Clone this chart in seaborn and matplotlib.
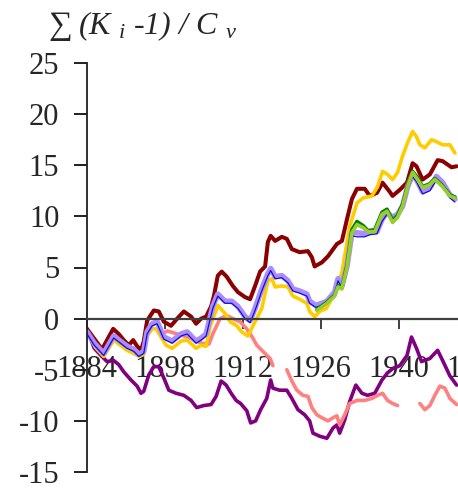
import numpy as np
import pandas as pd
import matplotlib
matplotlib.use("Agg")
import matplotlib.pyplot as plt
import seaborn as sns

# ---------------- data ----------------
years_red = [1884, 1886.7, 1888.7, 1889.7, 1890.6, 1891.5, 1892.3, 1893.0, 1893.7, 1894.2, 1894.8, 1896.0, 1896.9,
             1897.8, 1899.1, 1900.2, 1901.4, 1902.7, 1903.6, 1904.5, 1905.4, 1906.3, 1906.8, 1907.5, 1908.2, 1909.1,
             1910.2, 1911.1, 1912.4, 1913.3, 1914.2, 1915.1, 1916.0, 1916.5, 1917.0, 1917.8, 1919.0, 1919.9, 1920.8,
             1922.2, 1923.7, 1924.4, 1924.9, 1926.2, 1927.3, 1928.9, 1929.8, 1930.7, 1931.6, 1932.5, 1933.9, 1934.8,
             1936.1, 1937.1, 1938.4, 1938.9, 1940.2, 1941.5, 1942.5, 1943.2, 1944.3, 1945.6, 1947.0, 1947.9, 1949.5,
             1950.4]
vals_red = [-1.0, -3.0, -1.0, -1.5, -2.1, -2.6, -2.1, -2.7, -3.1, -2.2, -0.2, 0.8, 0.7, -0.3, -0.7, 0.0, 0.7, 0.2,
            -0.5, 0.0, 0.2, 1.2, 2.2, 4.2, 4.6, 4.1, 3.2, 2.6, 2.1, 1.9, 3.2, 4.6, 5.1, 7.5, 8.1, 7.6, 8.0, 7.8, 6.8,
            6.5, 6.6, 6.0, 5.1, 5.5, 6.1, 7.3, 7.6, 9.7, 11.7, 12.7, 12.7, 12.0, 12.3, 13.3, 12.4, 12.0, 12.6, 13.3,
            15.2, 14.9, 13.6, 14.1, 15.5, 15.4, 14.8, 14.9]

years_yel = [1884, 1885.5, 1887.0, 1888.8, 1890.0, 1891.2, 1892.4, 1893.3, 1894.2, 1894.8, 1895.7, 1896.4, 1897.3,
             1898.2, 1899.3, 1900.9, 1902.0, 1903.6, 1904.5, 1905.4, 1906.1, 1907.5, 1908.8, 1909.7, 1910.9, 1911.8,
             1912.9, 1914.2, 1915.4, 1916.5, 1917.2, 1917.8, 1919.0, 1920.1, 1921.0, 1922.2, 1923.5, 1924.0, 1924.9,
             1925.8, 1927.0, 1928.2, 1929.8, 1931.2, 1932.5, 1933.6, 1935.2, 1936.2, 1937.1, 1938.0, 1938.9, 1939.8,
             1940.7, 1941.6, 1942.5, 1943.2, 1943.8, 1944.7, 1945.9, 1946.8, 1947.9, 1949.2, 1950.1]
vals_yel = [-1.2, -2.8, -3.7, -2.1, -2.6, -3.1, -3.4, -3.7, -3.5, -1.7, -1.0, -1.0, -1.8, -2.6, -2.9, -2.2, -2.1,
            -2.9, -2.6, -2.7, -0.8, 1.3, 0.5, -0.3, -0.7, -1.3, -1.7, -0.3, 1.0, 3.7, 3.9, 3.1, 3.2, 3.1, 2.2, 1.9,
            1.5, 0.7, 0.2, 0.7, 1.0, 2.2, 4.5, 9.0, 11.3, 11.8, 12.0, 12.9, 14.4, 14.1, 13.6, 14.3, 15.9, 17.2, 18.3,
            17.8, 17.0, 16.7, 17.5, 17.3, 17.0, 17.0, 16.2]

years_lav = [1884, 1885.3, 1887.0, 1888.8, 1890.0, 1891.2, 1892.4, 1893.3, 1894.2, 1894.8, 1895.7, 1896.6, 1897.8,
             1899.3, 1900.9, 1902.0, 1903.6, 1904.5, 1905.4, 1906.6, 1907.5, 1908.8, 1910.0, 1911.1, 1912.4, 1913.3,
             1914.2, 1915.4, 1916.5, 1917.0, 1917.8, 1919.0, 1920.1, 1921.0, 1922.2, 1923.5, 1924.0, 1925.1, 1926.2,
             1927.1, 1928.5, 1929.1, 1929.8, 1930.7, 1931.6, 1932.5, 1933.9, 1934.8, 1936.1, 1937.0, 1937.9, 1938.9,
             1939.8, 1940.7, 1941.6, 1942.5, 1943.2, 1944.3, 1945.6, 1946.8, 1947.9, 1949.2, 1950.1]
vals_lav = [-1.3, -2.4, -3.4, -1.7, -2.2, -2.7, -3.0, -3.5, -3.2, -1.3, -0.5, -0.3, -1.8, -2.2, -1.5, -1.3, -2.2,
            -1.9, -1.5, 1.2, 2.4, 1.7, 1.7, 1.2, 0.2, -0.2, 1.0, 2.9, 4.4, 4.9, 4.1, 4.2, 3.7, 2.9, 2.7, 2.4, 1.7,
            1.3, 1.5, 1.7, 2.6, 3.9, 3.2, 5.1, 8.4, 8.4, 8.3, 8.5, 8.5, 9.7, 10.4, 9.9, 10.2, 11.0, 12.9, 14.1, 13.6,
            12.4, 12.8, 13.9, 13.3, 12.1, 11.7]
vals_blu = [-1.5, -2.6, -3.6, -1.9, -2.4, -2.9, -3.2, -3.7, -3.4, -1.5, -0.7, -0.5, -2.0, -2.4, -1.7, -1.5, -2.4,
            -2.1, -1.7, 1.0, 2.2, 1.5, 1.5, 1.0, 0.0, -0.4, 0.8, 2.7, 4.2, 4.7, 3.9, 4.0, 3.5, 2.7, 2.5, 2.2, 1.5,
            1.1, 1.3, 1.5, 2.4, 3.7, 3.0, 4.9, 8.1, 8.0, 8.0, 8.2, 8.3, 9.5, 10.2, 9.7, 10.0, 10.8, 12.7, 13.9, 13.4,
            12.2, 12.5, 13.6, 13.0, 11.8, 11.4]

years_grn = [1925.3, 1927.1, 1928.5, 1929.1, 1929.8, 1930.7, 1931.6, 1932.5, 1933.6, 1934.5, 1935.7, 1937.0, 1937.9,
             1938.9, 1939.8, 1940.7, 1941.6, 1942.5, 1943.4, 1944.3, 1945.6, 1946.5, 1947.7, 1949.2, 1950.1]
vals_lime = [0.8, 1.5, 2.2, 3.1, 2.9, 5.0, 8.4, 9.2, 8.9, 8.5, 8.5, 10.2, 10.5, 9.4, 9.9, 11.0, 12.9, 14.3, 13.6,
             12.8, 13.1, 13.6, 13.0, 12.0, 11.8]
vals_dgrn = [0.9, 1.6, 2.3, 3.2, 3.0, 5.2, 8.7, 9.5, 9.1, 8.6, 8.7, 10.4, 10.7, 9.6, 10.1, 11.2, 13.0, 14.4, 13.8,
             12.9, 13.2, 13.7, 13.1, 12.1, 11.9]

years_pink = [1897.5, 1898.4, 1900.2, 1902.0, 1904.6, 1905.9, 1906.6, 1907.9, 1909.1, 1910.2, 1911.5, 1912.7, 1913.8,
              1914.5, 1915.6, 1916.9, 1917.4, 1918.5, 1919.9, 1920.8, 1921.7, 1922.8, 1923.7, 1924.4, 1925.3, 1926.2,
              1927.3, 1928.2, 1928.9, 1929.4, 1930.3, 1931.2, 1932.5, 1933.9, 1935.2, 1936.2, 1937.1, 1938.0, 1938.9,
              1939.8, 1942.0, 1943.8, 1944.7, 1945.6, 1946.5, 1947.4, 1948.3, 1949.2, 1950.4]
vals_pink = [-1.5, -1.2, -1.5, -1.8, -2.4, -2.5, -1.5, 0.0, 0.3, 0.0, -0.3, -1.0, -1.9, -2.6, -3.2, -3.9, -4.6,
             np.nan, -5.0, -6.1, -7.0, -7.5, -7.6, -8.7, -9.4, -9.7, -10.0, -9.7, -9.5, -10.4, -9.4, -8.3, -8.0,
             -8.0, -7.8, -7.5, -7.3, -8.0, -8.3, -8.5, np.nan, -8.3, -8.9, -8.5, -7.5, -6.6, -6.8, -7.8, -8.4]

years_pur = [1884, 1885.3, 1886.5, 1887.6, 1888.8, 1889.7, 1890.6, 1891.9, 1893.0, 1893.7, 1894.2, 1895.1, 1896.0,
             1896.9, 1897.8, 1898.7, 1900.0, 1901.4, 1902.7, 1903.7, 1905.0, 1906.3, 1907.2, 1908.1, 1909.0, 1909.9,
             1910.8, 1911.6, 1912.7, 1913.4, 1914.3, 1915.2, 1916.3, 1917.0, 1917.4, 1918.6, 1919.9, 1920.8, 1921.9,
             1923.1, 1924.0, 1924.6, 1925.8, 1927.1, 1928.2, 1928.9, 1929.4, 1930.3, 1931.2, 1932.3, 1933.4, 1934.4,
             1935.7, 1937.0, 1938.0, 1938.9, 1940.2, 1941.5, 1942.3, 1943.2, 1944.1, 1945.6, 1947.0, 1947.9, 1949.2,
             1950.4]
vals_pur = [-1.0, -2.9, -3.6, -4.2, -4.1, -4.5, -5.2, -6.0, -6.6, -7.3, -7.1, -5.5, -4.7, -4.7, -5.8, -7.0, -7.3,
            -7.5, -8.0, -8.7, -8.5, -8.4, -7.6, -6.1, -6.5, -7.3, -8.0, -8.3, -9.0, -10.2, -10.0, -8.9, -7.8, -6.0,
            -6.8, -7.0, -7.0, -7.8, -8.9, -9.4, -10.0, -11.2, -11.5, -11.7, -10.7, -10.4, -11.2, -9.9, -8.1, -6.5,
            -7.3, -7.5, -7.3, -6.0, -5.3, -4.9, -4.6, -3.6, -1.8, -2.9, -4.2, -3.9, -3.1, -4.1, -5.6, -6.5]

x_ticks = [1884, 1898, 1912, 1926, 1940, 1954]
y_ticks = [-15, -10, -5, 0, 5, 10, 15, 20, 25]
title_sym = "\u2211"
title_rest = r"(K $_{i}$ -1) / C $_{v}$"

# ---------------- style ----------------
sns.set_style("white")
plt.rcParams["font.family"] = ["Liberation Serif", "DejaVu Serif"]
plt.rcParams["mathtext.fontset"] = "custom"
plt.rcParams["mathtext.rm"] = "Liberation Serif"
plt.rcParams["mathtext.it"] = "Liberation Serif:italic"

W, H = 458, 493
fig = plt.figure(figsize=(W / 100, H / 100), dpi=100)
ax = fig.add_axes([87 / W, 21 / H, 423 / W, 409 / H])


def segs(years, vals):
    df = pd.DataFrame({"x": years, "y": vals})
    df["seg"] = df["y"].isna().cumsum()
    return df.dropna()


def draw(years, vals, color, lw):
    df = segs(years, vals)
    sns.lineplot(data=df, x="x", y="y", units="seg", estimator=None, sort=False,
                 color=color, linewidth=lw, ax=ax, legend=False,
                 solid_joinstyle="round", solid_capstyle="round")


draw(years_pur, vals_pur, "#800080", 2.6)
draw(years_pink, vals_pink, "#FF8080", 2.6)
draw(years_red, vals_red, "#8B0000", 2.9)
draw(years_yel, vals_yel, "#FFCC00", 2.6)
draw(years_lav, vals_lav, "#AA8CFF", 4.0)
draw(years_lav, vals_blu, "#1010CC", 0.9)
draw(years_grn, vals_dgrn, "#008000", 2.6)
draw(years_grn, vals_lime, "#99CC33", 2.6)

ax.set_xlim(1884, 1960)
ax.set_ylim(-15, 25)
ax.set_xticks(x_ticks)
ax.set_yticks(y_ticks)
ax.set_xticklabels([str(t) for t in x_ticks])
ax.set_yticklabels([str(t) for t in y_ticks])
ax.set_xlabel("")
ax.set_ylabel("")

for s in ["top", "right"]:
    ax.spines[s].set_visible(False)
ax.spines["bottom"].set_position(("data", 0))
ax.spines["bottom"].set_color("#404040")
ax.spines["bottom"].set_linewidth(1.6)
ax.spines["left"].set_color("#202020")
ax.spines["left"].set_linewidth(1.3)

ax.tick_params(axis="x", direction="out", length=7.5, width=1.4, color="#404040",
               labelsize=22, pad=19, bottom=True)
ax.tick_params(axis="y", direction="out", length=9.4, width=1.4, color="#202020",
               labelsize=22, pad=10.5, left=True)

fig.text(48 / W, 1 - 34 / H, title_sym, fontsize=24, ha="left", va="baseline")
fig.text(78 / W, 1 - 34 / H, title_rest, fontsize=23, style="italic", ha="left", va="baseline")

fig.savefig("out.png", dpi=100)
